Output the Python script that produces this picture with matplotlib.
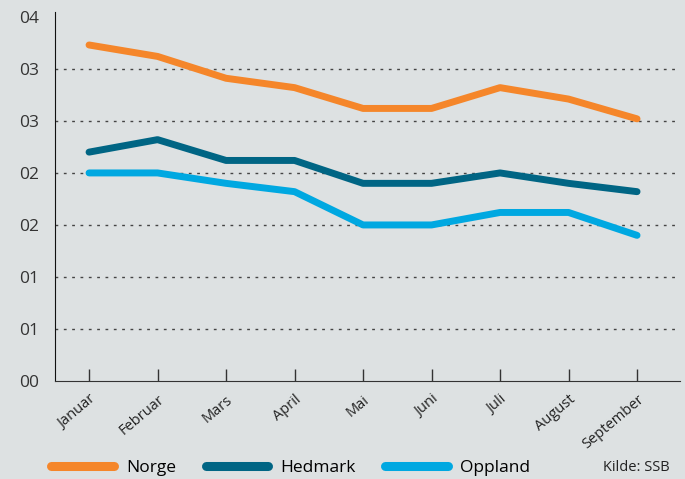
import matplotlib
matplotlib.use("Agg")
import matplotlib.pyplot as plt

# Data
months = ["Januar", "Februar", "Mars", "April", "Mai", "Juni", "Juli", "August", "September"]
norge = [0.323, 0.312, 0.291, 0.282, 0.262, 0.262, 0.282, 0.271, 0.252]
hedmark = [0.220, 0.232, 0.212, 0.212, 0.190, 0.190, 0.200, 0.190, 0.182]
oppland = [0.200, 0.200, 0.190, 0.182, 0.150, 0.150, 0.162, 0.162, 0.140]
ytick_values = [0.0, 0.05, 0.10, 0.15, 0.20, 0.25, 0.30, 0.35]
ytick_labels = ["00", "01", "01", "02", "02", "03", "03", "04"]

bg = "#dde1e2"
plt.rcParams['font.family'] = ['Open Sans', 'DejaVu Sans']

fig = plt.figure(figsize=(6.85, 4.79), dpi=100, facecolor=bg)
ax = fig.add_axes([0.080, 0.2046, 0.913, 0.771], facecolor=bg)

x = range(len(months))
ax.plot(x, norge, color="#f5862a", lw=5, solid_capstyle="round", label="Norge", zorder=3)
ax.plot(x, hedmark, color="#006584", lw=5, solid_capstyle="round", label="Hedmark", zorder=3)
ax.plot(x, oppland, color="#00a8e1", lw=5, solid_capstyle="round", label="Oppland", zorder=3)

# dotted gridlines (not at top)
for v in ytick_values[1:-1]:
    ax.axhline(v, color="#444444", lw=1, linestyle=(0, (2, 4)), zorder=1)

ax.set_xlim(-0.5, 8.63)
ax.set_ylim(0, 0.355)
ax.set_yticks(ytick_values)
ax.set_yticklabels(ytick_labels, fontsize=12.5, color="#333333")
ax.tick_params(axis="y", length=0, pad=11)

ax.set_xticks(list(x))
ax.set_xticklabels(months, rotation=40, ha="right", rotation_mode="anchor", fontsize=10.5, color="#222222")
ax.tick_params(axis="x", direction="in", length=9, width=1, color="#333333", pad=8)

for s in ["top", "right"]:
    ax.spines[s].set_visible(False)
ax.spines["left"].set_color("#111111")
ax.spines["bottom"].set_color("#333333")

leg = fig.legend(loc="center left", bbox_to_anchor=(0.075, 0.024), ncol=3, frameon=False,
                 fontsize=12.5, handlelength=3.6, columnspacing=1.7, handletextpad=0.7,
                 borderpad=0, borderaxespad=0)
for h in leg.get_lines():
    h.set_linewidth(6.5)
    h.set_solid_capstyle("round")
fig.text(0.978, 0.024, "Kilde: SSB", ha="right", va="center", fontsize=10.5, color="#222222")

fig.savefig("out.png", dpi=100, facecolor=bg)
